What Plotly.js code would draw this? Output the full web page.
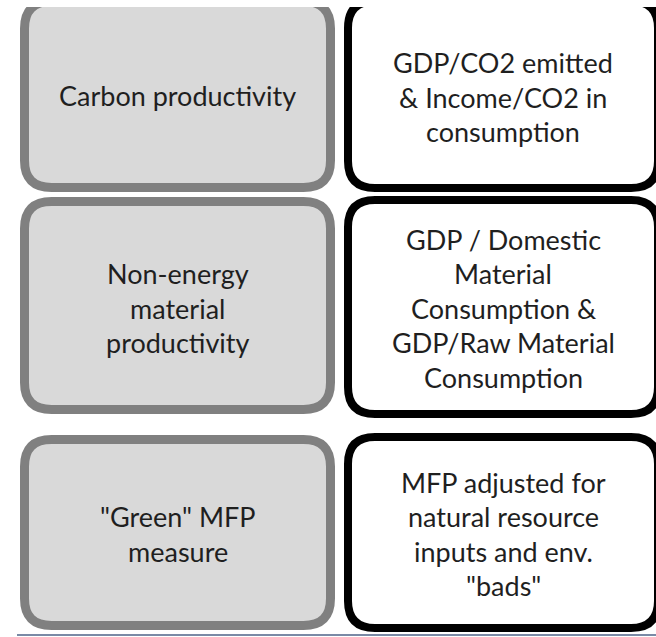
<!DOCTYPE html>
<html>
<head>
<meta charset="utf-8">
<script src="https://cdn.plot.ly/plotly-3.0.1.min.js"></script>
<style>html,body{margin:0;padding:0;background:#fff;}#chart{width:656px;height:637px;}</style>
</head>
<body>
<div id="chart"></div>
<script>
// Diagram content
var leftLabels = [
  "Carbon productivity",
  "Non-energy<br>material<br>productivity",
  "\"Green\" MFP<br>measure"
];
var rightLabels = [
  "GDP/CO2 emitted<br>& Income/CO2 in<br>consumption",
  "GDP / Domestic<br>Material<br>Consumption &<br>GDP/Raw Material<br>Consumption",
  "MFP adjusted for<br>natural resource<br>inputs and env.<br>\"bads\""
];

// Layout geometry (pixel space)
var leftRows = [[-3, 192], [197, 414], [435, 630]];
var rightRows = [[-3, 192], [196, 418], [433, 632]];
var leftX = [20, 335];
var rightX = [344, 662];

function roundRect(x0, y0, x1, y1, r) {
  return "M " + (x0 + r) + "," + y0 +
    " L " + (x1 - r) + "," + y0 +
    " Q " + x1 + "," + y0 + " " + x1 + "," + (y0 + r) +
    " L " + x1 + "," + (y1 - r) +
    " Q " + x1 + "," + y1 + " " + (x1 - r) + "," + y1 +
    " L " + (x0 + r) + "," + y1 +
    " Q " + x0 + "," + y1 + " " + x0 + "," + (y1 - r) +
    " L " + x0 + "," + (y0 + r) +
    " Q " + x0 + "," + y0 + " " + (x0 + r) + "," + y0 + " Z";
}

var shapes = [];
var annotations = [];
var lw = 9, rw = 8, lineGap = 34.5;
var font = {family: "Lato, 'Open Sans', sans-serif", size: 27, color: "#1f1f1f"};

function addText(label, cx, cy) {
  var lines = label.split("<br>");
  var n = lines.length;
  lines.forEach(function (t, i) {
    annotations.push({
      x: cx, y: cy + (i - (n - 1) / 2) * lineGap,
      xref: "x", yref: "y", text: t, showarrow: false,
      xanchor: "center", yanchor: "middle", font: font
    });
  });
}

leftRows.forEach(function (r, i) {
  shapes.push({
    type: "path", xref: "x", yref: "y", layer: "below",
    path: roundRect(leftX[0] + lw / 2, r[0] + lw / 2, leftX[1] - lw / 2, r[1] - lw / 2, 27),
    fillcolor: "#d9d9d9", line: {color: "#808080", width: lw}
  });
  addText(leftLabels[i], (leftX[0] + leftX[1]) / 2, [95, 308, 534][i]);
});
rightRows.forEach(function (r, i) {
  shapes.push({
    type: "path", xref: "x", yref: "y", layer: "below",
    path: roundRect(rightX[0] + rw / 2, r[0] + rw / 2, rightX[1] - rw / 2, r[1] - rw / 2, 27),
    fillcolor: "#ffffff", line: {color: "#000000", width: rw}
  });
  addText(rightLabels[i], 503, [97, 308, 534][i]);
});
// cropped top strip
shapes.push({type: "rect", xref: "x", yref: "y", layer: "above", x0: 0, x1: 656, y0: -5, y1: 7,
  fillcolor: "#ffffff", line: {width: 0}});
// bottom rule
shapes.push({type: "line", xref: "x", yref: "y", layer: "above", x0: 17, x1: 656, y0: 635, y1: 635,
  line: {color: "#7a8aa6", width: 2}});

var layout = {
  width: 656, height: 637,
  margin: {l: 0, r: 0, t: 0, b: 0},
  paper_bgcolor: "#ffffff", plot_bgcolor: "#ffffff",
  xaxis: {range: [0, 656], visible: false, fixedrange: true},
  yaxis: {range: [637, 0], visible: false, fixedrange: true},
  showlegend: false,
  shapes: shapes,
  annotations: annotations
};
Plotly.newPlot("chart", [], layout, {displayModeBar: false, staticPlot: true});
</script>
</body>
</html>
